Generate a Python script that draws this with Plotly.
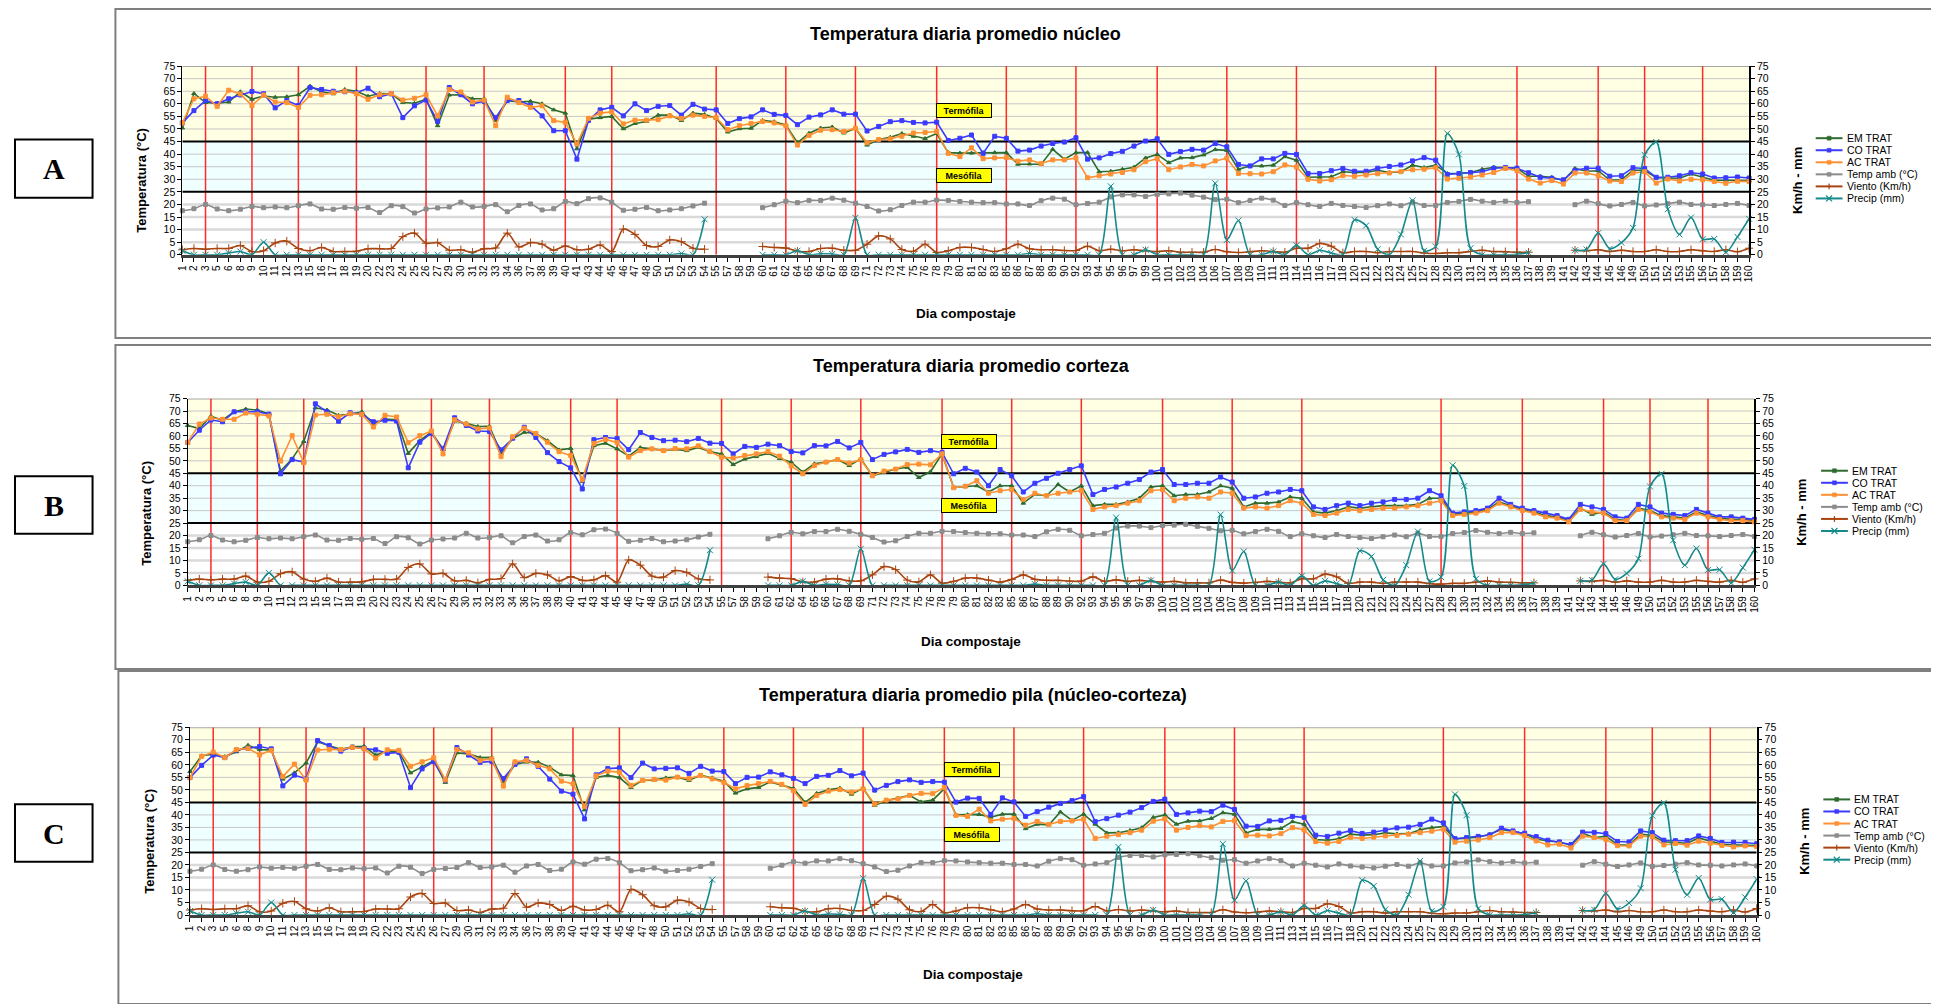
import plotly.graph_objects as go

OFF = 8            # default page body margin
W, H = 1939 - OFF, 1004 - OFF

days = ["1","2","3","5","6","8","9","10","11","12","13","15","16","17","18","19","20","22","23","24","25","26","27","29","30","31","32","33","34","36","37","38","39","40","41","43","44","45","46","47","48","50","51","52","53","54","55","57","58","59","60","61","62","64","65","66","67","68","69","71","72","73","74","75","76","78","79","80","81","82","83","85","86","87","88","89","90","92","93","94","95","96","97","99","100","101","102","103","104","106","107","108","109","110","111","113","114","115","116","117","118","120","121","122","123","124","125","127","128","129","130","131","132","134","135","136","137","138","139","141","142","143","144","145","146","149","150","151","152","153","155","156","157","158","159","160"]

red_days = ["3","9","13","19","26","32","40","45","55","62","69","78","85","92","100","107","114","128","136","144","150","156"]

temp_amb = [17.5,18.3,20.0,18.2,17.5,18.1,19.2,18.7,19.0,18.7,19.5,
            20.2,18.2,18.1,18.8,18.5,18.8,
            16.8,19.5,19.1,16.6,18.2,18.6,
            19.0,20.9,19.0,19.2,19.9,17.1,
            19.6,20.2,17.8,18.3,21.2,20.3,
            22.3,22.6,20.9,17.7,18.1,18.8,
            17.5,17.8,18.3,19.4,20.5,None,
            None,None,None,18.7,19.9,21.3,
            20.7,21.6,21.6,22.5,21.7,20.5,
            19.2,17.4,17.9,19.6,20.9,20.9,
            21.7,21.6,21.2,20.9,20.7,20.7,
            20.2,20.2,19.6,21.5,22.5,22.1,
            19.9,20.4,20.9,23.0,23.8,23.8,
            23.2,24.0,24.2,24.5,23.7,22.9,
            21.9,22.1,20.7,21.6,22.5,21.7,
            19.6,20.7,19.9,19.2,20.4,19.6,
            19.2,18.8,19.5,20.2,19.5,20.9,
            19.6,19.6,20.8,21.2,22.0,21.3,
            20.8,21.3,20.8,21.1,None,None,
            None,19.9,21.3,20.3,19.4,20.0,
            20.8,19.4,19.8,20.3,20.9,20.0,
            19.9,19.6,20.0,20.4,19.6]

viento = [2.0,2.5,2.2,2.5,2.5,3.7,1.3,1.6,4.7,5.4,2.5,
          1.6,2.9,1.3,1.3,1.4,2.4,
          2.4,2.5,7.2,8.6,4.6,4.8,
          1.8,2.0,1.0,2.4,2.7,8.6,
          3.1,4.8,4.2,1.8,3.5,2.0,
          2.2,3.9,1.3,10.2,8.1,3.7,
          3.3,5.9,5.2,2.6,2.2,None,
          None,None,None,3.3,2.9,2.7,
          1.4,1.3,2.5,2.6,1.8,1.8,
          4.2,7.5,6.3,2.1,1.4,4.2,
          0.9,1.6,2.9,2.9,2.1,1.3,
          2.4,4.2,2.4,2.0,2.0,1.7,
          1.7,3.4,1.6,2.2,1.6,2.0,
          1.6,1.3,1.6,1.0,1.0,1.0,
          2.1,1.2,0.9,1.2,1.6,1.3,
          1.0,2.6,2.6,4.5,3.4,0.8,
          1.3,1.3,0.8,1.3,1.3,1.3,
          0.7,0.5,0.8,0.8,1.3,1.8,
          1.3,1.2,1.0,1.0,None,None,
          None,1.8,1.6,2.0,1.3,1.8,
          1.3,1.3,2.0,1.3,1.3,2.0,
          1.6,1.3,2.0,1.2,2.6]

precip = [1.6,0,0,0,0.7,1.3,0,5.0,0,0,0,
          0,0,0,0,0,0,
          0,0,0,0,0,0,
          0,0,0,0,0,0,
          0,0,0,0,0,0,
          0,0,0,0,0,0,
          0,0,0.5,0,14.1,None,
          None,None,None,0,0,0,
          1.6,0,0.4,0.3,0,14.7,
          0,0,0,0,0,0,
          0,0,0,0,0,0,
          0,0,0.5,0,0,0,
          0,0,0,27.2,0,0,
          2.0,0,0,0,0,0,
          28.4,5.9,13.6,0,0,1.3,
          0,3.8,0,1.8,0.7,0,
          13.9,11.6,2.2,0,8.1,21.6,
          1.6,3.3,48.2,39.9,2.6,0,
          0,0,0.2,0.8,None,None,
          None,1.8,2.1,8.6,2.4,4.8,
          10.7,39.7,44.8,18.1,8.1,14.8,
          6.2,6.3,1.0,7.1,14.3]

A_em = [50.4,64.1,60.5,60.2,60.7,64.8,61.8,63.1,62.6,62.8,63.6,
        67.0,64.8,64.0,65.7,65.0,63.0,
        64.1,64.0,60.5,60.2,61.8,51.3,
        63.5,63.6,62.0,62.0,53.4,61.3,
        60.7,61.0,60.0,57.6,56.3,42.1,
        53.9,54.5,55.0,50.1,52.2,53.0,
        55.5,55.5,53.4,56.3,55.8,54.2,
        48.8,50.1,50.3,53.4,52.9,51.6,
        44.5,48.3,50.4,50.8,48.4,50.3,
        43.6,45.8,46.7,48.2,47.1,46.2,
        48.2,40.6,40.4,40.4,40.6,40.6,
        40.6,36.0,36.1,36.0,41.9,38.0,
        40.6,40.6,33.0,33.2,34.0,34.8,
        38.5,39.9,36.6,38.5,38.6,39.7,
        41.8,41.5,34.0,35.3,35.3,35.6,
        39.0,37.6,30.8,30.8,31.0,33.0,
        32.7,32.7,33.6,32.7,33.0,35.6,
        34.7,35.6,32.3,32.3,32.7,34.0,
        34.8,34.7,34.4,31.2,31.2,30.8,
        29.5,34.3,33.2,33.4,29.7,29.8,
        33.6,33.6,30.6,30.5,30.4,32.1,
        31.0,29.6,29.6,29.6,29.5]

A_co = [52.4,57.3,61.3,60.0,62.0,63.5,64.9,64.0,58.4,61.3,59.3,
        66.4,65.7,65.0,64.8,64.4,66.2,
        62.8,64.0,54.5,59.2,61.5,53.0,
        66.5,63.6,60.0,61.0,54.5,61.3,
        61.3,59.4,55.2,49.3,49.3,38.0,
        53.4,57.6,58.6,55.2,60.0,57.3,
        59.0,59.3,55.5,59.8,57.9,57.6,
        52.2,54.1,54.8,57.6,55.8,55.4,
        51.7,54.7,55.6,57.6,55.9,55.9,
        49.2,51.0,52.9,53.3,52.6,52.4,
        52.7,45.4,46.3,47.6,40.3,47.1,
        46.3,41.2,41.6,43.2,44.2,44.8,
        46.5,38.0,38.5,40.2,41.1,43.2,
        45.2,46.1,39.9,41.0,41.9,41.6,
        44.2,42.9,35.9,35.3,38.1,38.1,
        40.3,39.9,32.3,32.3,33.4,34.3,
        33.2,33.2,34.4,35.1,35.7,37.3,
        38.6,37.6,31.9,32.3,32.7,33.0,
        34.4,34.7,34.4,32.6,30.8,30.4,
        29.8,33.6,34.4,34.4,31.2,31.4,
        34.6,34.3,30.8,30.8,31.4,32.6,
        32.1,30.5,30.6,30.9,30.5]

A_ac = [52.4,62.0,63.0,59.0,65.4,63.9,59.3,63.5,60.7,60.5,58.5,
        63.4,63.6,64.4,65.0,64.0,61.8,
        63.6,64.0,61.5,62.2,63.6,55.2,
        65.7,64.7,60.7,61.5,51.3,62.6,
        60.5,58.6,59.2,53.3,52.6,44.0,
        54.2,56.3,56.8,52.0,53.5,53.5,
        53.7,55.2,54.2,55.5,55.0,54.5,
        49.7,51.3,52.2,53.0,52.4,51.3,
        43.6,47.4,49.5,49.7,49.0,50.3,
        44.5,45.8,46.1,47.1,48.4,48.6,
        49.0,40.3,39.0,42.5,38.2,38.5,
        38.6,37.2,37.7,36.3,37.7,37.7,
        38.5,30.6,31.4,32.1,32.7,33.8,
        37.0,38.2,33.8,34.9,35.9,35.3,
        37.3,38.4,32.3,32.2,32.1,33.0,
        35.7,34.9,30.0,29.3,29.8,31.5,
        31.2,31.7,32.2,32.5,33.0,33.8,
        34.0,34.6,30.1,30.4,30.9,31.7,
        32.7,34.3,33.4,30.1,28.5,29.5,
        28.1,32.5,32.5,31.4,29.3,29.1,
        32.5,33.0,28.5,30.1,29.3,30.0,
        29.8,29.1,28.4,29.2,29.1]

B_em = [64.2,63.0,67.9,66.3,69.7,70.8,70.4,68.9,45.9,50.8,57.8,
        71.3,70.4,68.3,68.7,69.7,64.7,
        66.8,66.5,53.0,58.1,61.5,54.6,
        66.0,65.1,63.8,63.9,53.0,58.9,
        61.5,61.0,58.1,54.4,55.0,41.8,
        56.1,57.1,54.8,51.9,55.3,54.8,
        54.1,54.6,54.1,55.4,53.7,52.8,
        48.5,50.7,51.7,53.0,50.9,49.5,
        45.5,48.8,49.5,50.5,48.1,50.8,
        44.0,45.5,46.7,47.4,43.3,45.6,
        52.8,39.3,39.8,40.0,37.5,40.0,
        40.0,33.0,36.5,36.0,40.5,37.5,
        40.0,32.0,32.5,32.5,33.5,35.0,
        39.5,40.0,36.0,36.5,36.5,37.5,
        40.0,39.0,31.5,33.0,33.0,33.5,
        35.5,35.0,29.5,29.0,30.0,31.5,
        31.0,31.5,32.0,32.0,32.0,32.5,
        35.0,35.0,28.5,29.0,29.5,30.5,
        33.5,32.0,30.5,29.5,28.0,27.5,
        26.0,31.0,28.5,29.5,26.5,26.0,
        31.0,30.0,28.0,27.5,27.0,29.5,
        28.0,27.0,26.5,26.5,26.0]

B_co = [57.4,62.3,66.4,65.7,69.7,69.7,69.7,68.7,44.8,50.5,49.5,
        72.9,69.7,65.9,69.3,68.7,65.7,
        66.3,66.0,47.2,57.5,61.1,54.8,
        67.3,64.2,62.0,61.8,54.4,59.1,
        63.5,59.4,53.3,49.7,47.2,38.7,
        58.5,59.4,59.0,54.5,61.4,59.4,
        58.1,58.3,57.7,59.0,57.1,57.0,
        52.8,55.8,55.4,56.7,56.1,53.7,
        53.2,56.1,56.0,57.8,55.2,57.4,
        50.5,52.6,53.6,54.6,53.4,54.1,
        53.4,44.8,47.0,45.5,40.0,46.5,
        44.0,37.5,41.0,43.0,45.0,46.5,
        48.0,36.5,38.5,39.5,41.0,42.5,
        45.5,46.5,40.5,40.5,41.0,41.0,
        43.5,41.5,35.0,35.5,37.0,37.5,
        38.5,38.0,31.5,30.5,32.0,33.0,
        32.0,33.0,33.5,34.5,34.5,35.0,
        38.0,36.0,29.0,29.5,30.0,31.0,
        35.0,32.5,31.0,30.0,29.0,28.0,
        26.5,32.5,31.5,30.5,27.5,27.0,
        32.5,31.5,29.0,28.5,28.0,30.5,
        29.0,27.5,27.5,27.0,26.5]

B_ac = [57.4,64.8,67.2,66.7,66.7,69.2,68.7,68.0,49.9,60.1,49.3,
        68.4,68.7,67.7,68.9,68.7,63.6,
        68.3,67.6,57.3,60.1,62.0,52.8,
        66.5,64.8,62.8,63.2,51.7,59.7,
        63.1,61.0,57.5,53.7,52.1,42.5,
        57.0,58.6,57.4,51.5,54.1,54.8,
        54.1,54.9,54.8,56.0,53.7,51.5,
        51.1,52.1,52.8,53.7,51.9,48.0,
        44.8,48.1,49.5,50.5,49.1,50.5,
        44.0,45.9,46.7,48.5,48.7,48.4,
        52.8,39.2,39.8,42.0,37.0,38.0,
        38.5,34.5,37.0,36.0,37.0,37.5,
        38.0,30.5,31.5,32.0,33.0,34.0,
        38.0,38.5,34.0,35.0,35.5,35.0,
        37.5,37.0,31.0,31.5,31.0,32.0,
        34.0,33.0,28.5,28.0,29.0,30.5,
        30.0,30.5,31.0,31.0,31.5,32.0,
        33.0,34.0,28.0,28.5,29.0,30.0,
        33.0,31.5,30.0,29.0,27.5,27.0,
        25.5,30.5,29.5,29.0,26.0,26.0,
        30.5,29.5,27.5,27.0,26.5,29.0,
        27.5,26.5,26.0,26.0,25.5]

C_em = [57.3,63.6,64.2,63.3,65.2,67.8,66.1,66.0,54.3,56.8,60.7,
        69.2,67.6,66.2,67.2,67.4,63.9,
        65.5,65.3,56.8,59.2,61.7,53.0,
        64.8,64.4,62.9,63.0,53.2,60.1,
        61.1,61.0,59.1,56.0,55.7,42.0,
        55.0,55.8,54.9,51.0,53.8,53.9,
        54.8,55.1,53.8,55.9,54.8,53.5,
        48.7,50.4,51.0,53.2,51.9,50.6,
        45.0,48.6,50.0,50.7,48.3,50.6,
        43.8,45.7,46.7,47.8,45.2,45.9,
        50.5,40.0,40.1,40.2,39.1,40.3,
        40.3,34.5,36.3,36.0,41.2,37.8,
        40.3,36.3,32.8,32.9,33.8,34.9,
        39.0,40.0,36.3,37.5,37.6,38.6,
        40.9,40.3,32.8,34.2,34.2,34.6,
        37.3,36.3,30.2,29.9,30.5,32.3,
        31.9,32.1,32.8,32.4,32.5,34.1,
        34.9,35.3,30.4,30.7,31.1,32.3,
        34.2,33.4,32.5,30.4,29.6,29.2,
        27.8,32.7,30.9,31.5,28.1,27.9,
        32.3,31.8,29.3,29.0,28.7,30.8,
        29.5,28.3,28.1,28.1,27.8]

C_co = [54.9,59.8,63.9,62.9,65.9,66.6,67.3,66.4,51.6,55.9,54.4,
        69.7,67.7,65.5,67.1,66.6,66.0,
        64.6,65.0,50.9,58.4,61.3,53.9,
        66.9,63.9,61.0,61.4,54.5,60.2,
        62.4,59.4,54.3,49.5,48.3,38.4,
        56.0,58.5,58.8,54.9,60.7,58.4,
        58.6,58.8,56.6,59.4,57.5,57.3,
        52.5,55.0,55.1,57.2,56.0,54.6,
        52.5,55.4,55.8,57.7,55.6,56.7,
        49.9,51.8,53.3,54.0,53.0,53.3,
        53.1,45.1,46.7,46.6,40.2,46.8,
        45.2,39.4,41.3,43.1,44.6,45.7,
        47.3,37.3,38.5,39.9,41.1,42.9,
        45.4,46.3,40.2,40.8,41.5,41.3,
        43.9,42.2,35.5,35.4,37.6,37.8,
        39.4,39.0,31.9,31.4,32.7,33.7,
        32.6,33.1,34.0,34.8,35.1,36.2,
        38.3,36.8,30.5,30.9,31.4,32.0,
        34.7,33.6,32.7,31.3,29.9,29.2,
        28.2,33.1,33.0,32.5,29.4,29.2,
        33.6,32.9,29.9,29.7,29.7,31.6,
        30.6,29.0,29.1,29.0,28.5]

C_ac = [54.9,63.4,65.1,62.9,66.1,66.6,64.0,65.8,55.3,60.3,53.9,
        65.9,66.2,66.1,67.0,66.4,62.7,
        66.0,65.8,59.4,61.2,62.8,54.0,
        66.1,64.8,61.8,62.4,51.5,61.2,
        61.8,59.8,58.4,53.5,52.4,43.3,
        55.6,57.5,57.1,51.8,53.8,54.2,
        53.9,55.1,54.5,55.8,54.4,53.0,
        50.4,51.7,52.5,53.4,52.2,49.7,
        44.2,47.8,49.5,50.1,49.1,50.4,
        44.3,45.9,46.4,47.8,48.6,48.5,
        50.9,39.8,39.4,42.3,37.6,38.3,
        38.6,35.9,37.4,36.2,37.4,37.6,
        38.3,30.6,31.5,32.1,32.9,33.9,
        37.5,38.4,33.9,35.0,35.7,35.2,
        37.4,37.7,31.7,31.9,31.6,32.5,
        34.9,34.0,29.3,28.7,29.4,31.0,
        30.6,31.1,31.6,31.8,32.3,32.9,
        33.5,34.3,29.1,29.5,30.0,30.9,
        32.9,32.9,31.7,29.6,28.0,28.3,
        26.8,31.5,31.0,30.2,27.7,27.6,
        31.5,31.3,28.0,28.6,27.9,29.5,
        28.7,27.8,27.2,27.6,27.3]

names = ["EM TRAT", "CO TRAT", "AC TRAT", "Temp amb (°C)", "Viento (Km/h)", "Precip (mm)"]
colors = ["#2F6B2F", "#3B3BFF", "#FF9033", "#8C8C8C", "#A9440F", "#168A8A"]
symbols = ["triangle-up", "square", "square", "square", "cross-thin", "x-thin"]

FONT = "Liberation Sans, Arial, sans-serif"
NARROW = "Liberation Sans Narrow, Arial Narrow, Liberation Sans, Arial, sans-serif"

panels = [
    dict(title="Temperatura diaria promedio núcleo", letter="A", x0=177.3, x1=1753.0, yt=60.7, yb=251.7,
         box=(110, 3, 1960, 336), lab=(9, 135, 87, 194), ty=28, xty=311, tl=57.5, ml=31.5,
         data=(A_em, A_co, A_ac)),
    dict(title="Temperatura diaria promedio corteza", letter="B", x0=182.7, x1=1758.4, yt=397.3, yb=586.3,
         box=(110, 343, 1960, 671), lab=(9, 476, 87, 534), ty=364, xty=643, tl=57.7, ml=31.9,
         data=(B_em, B_co, B_ac)),
    dict(title="Temperatura diaria promedio pila (núcleo-corteza)", letter="C", x0=185.0, x1=1760.7, yt=730.0, yb=920.0,
         box=(113, 673, 1960, 1010), lab=(9, 808, 87, 866), ty=697, xty=980, tl=58.0, ml=32.0,
         data=(C_em, C_co, C_ac)),
]

xs = list(range(len(days)))
nmax = len(days) - 1

fig = go.Figure()
shapes = []
annotations = []
layout = {}


def px(v):
    return (v - OFF) / W


def py(v):
    return 1 - (v - OFF) / H


for k, p in enumerate(panels):
    xa = "x" if k == 0 else f"x{k + 1}"
    yl_n = 2 * k + 1
    yr_n = 2 * k + 2
    yl = "y" if yl_n == 1 else f"y{yl_n}"
    yr = f"y{yr_n}"
    xkey = "xaxis" if k == 0 else f"xaxis{k + 1}"
    ylkey = "yaxis" if yl_n == 1 else f"yaxis{yl_n}"
    yrkey = f"yaxis{yr_n}"

    dom_x = [px(p["x0"]), px(p["x1"])]
    dom_y = [py(p["yb"]), py(p["yt"])]

    layout[xkey] = dict(domain=dom_x, anchor=yl, range=[0, nmax], tickmode="array",
                        tickvals=xs, ticktext=days, tickangle=-90,
                        tickfont=dict(family=FONT, size=10, color="#000"),
                        ticks="outside", ticklen=4, tickcolor="#000", tickwidth=1,
                        showline=True, linecolor="#404040", linewidth=2.5,
                        showgrid=False, zeroline=False, fixedrange=True)
    layout[ylkey] = dict(domain=dom_y, anchor=xa, range=[0, 75], tick0=0, dtick=5,
                         tickfont=dict(family=FONT, size=10.5, color="#000"),
                         ticks="outside", ticklen=4, tickcolor="#000",
                         showline=True, linecolor="#000", linewidth=1,
                         showgrid=False, zeroline=False, fixedrange=True)
    layout[yrkey] = dict(domain=dom_y, anchor=xa, overlaying=yl, side="right",
                         range=[0, 75], tick0=0, dtick=5,
                         tickfont=dict(family=FONT, size=10.5, color="#000"),
                         ticks="outside", ticklen=4, tickcolor="#000",
                         showline=True, linecolor="#000", linewidth=1.5,
                         showgrid=False, zeroline=False, fixedrange=True)

    shapes.append(dict(type="rect", xref=xa, yref=yl, x0=0, x1=nmax, y0=45, y1=75,
                       fillcolor="#FFFFE3", line=dict(width=0), layer="below"))
    shapes.append(dict(type="rect", xref=xa, yref=yl, x0=0, x1=nmax, y0=25, y1=45,
                       fillcolor="#EFFFFF", line=dict(width=0), layer="below"))
    for v in range(5, 75, 5):
        if v in (25, 45):
            continue
        if v < 25:
            shapes.append(dict(type="line", xref=xa, yref=yl, x0=0, x1=nmax, y0=v, y1=v,
                               line=dict(color="#D9D9D9", width=2.5), layer="below"))
        else:
            shapes.append(dict(type="line", xref=xa, yref=yl, x0=0, x1=nmax, y0=v, y1=v,
                               line=dict(color="#C6C6C6", width=1), layer="below"))
    shapes.append(dict(type="line", xref=xa, yref=yl, x0=0, x1=nmax, y0=75, y1=75,
                       line=dict(color="#A6A6A6", width=2), layer="below"))
    for d in red_days:
        i = days.index(d)
        shapes.append(dict(type="line", xref=xa, yref=yl, x0=i, x1=i, y0=0, y1=75,
                           line=dict(color="#FF2A2A", width=1.5), layer="below"))
    for v in (45, 25):
        shapes.append(dict(type="line", xref=xa, yref=yl, x0=0, x1=nmax, y0=v, y1=v,
                           line=dict(color="#000", width=2), layer="below"))

    series = list(p["data"]) + [temp_amb, viento, precip]
    for j, ys in enumerate(series):
        on_right = j >= 3
        fig.add_trace(go.Scatter(
            x=xs, y=ys, name=names[j], mode="lines+markers",
            xaxis=xa, yaxis=(yr if on_right else yl),
            line=dict(color=colors[j], width=1.6, shape=("spline" if on_right else "linear"),
                      smoothing=0.8),
            marker=dict(symbol=symbols[j], size=(6 if j >= 4 else 4), color=colors[j],
                        line=dict(color=colors[j], width=1)),
            connectgaps=False, cliponaxis=False, showlegend=False, hoverinfo="skip"))

    bx0, by0, bx1, by1 = p["box"]
    shapes.append(dict(type="rect", xref="paper", yref="paper", x0=px(bx0), x1=px(bx1),
                       y0=py(by1), y1=py(by0), line=dict(color="#7F7F7F", width=2),
                       fillcolor="rgba(0,0,0,0)", layer="below"))
    lx0, ly0, lx1, ly1 = p["lab"]
    shapes.append(dict(type="rect", xref="paper", yref="paper", x0=px(lx0), x1=px(lx1),
                       y0=py(ly1), y1=py(ly0), line=dict(color="#000", width=2),
                       fillcolor="white"))
    annotations.append(dict(xref="paper", yref="paper", x=px((lx0 + lx1) / 2), y=py((ly0 + ly1) / 2),
                            text=f"<b>{p['letter']}</b>", showarrow=False, xanchor="center", yanchor="middle",
                            font=dict(family="Liberation Serif, Times New Roman, serif", size=30, color="#000")))
    cx = (p["x0"] + p["x1"]) / 2
    annotations.append(dict(xref="paper", yref="paper", x=px(cx), y=py(p["ty"]),
                            text=f"<b>{p['title']}</b>", showarrow=False, xanchor="center", yanchor="middle",
                            font=dict(family=NARROW, size=18, color="#000")))
    annotations.append(dict(xref="paper", yref="paper", x=px(cx), y=py(p["xty"]),
                            text="<b>Dia compostaje</b>", showarrow=False, xanchor="center", yanchor="middle",
                            font=dict(family=NARROW, size=13.5, color="#000")))
    ymid = p["yt"] + 115.5
    annotations.append(dict(xref="paper", yref="paper", x=px(p["x0"] - 41), y=py(ymid),
                            text="<b>Temperatura (°C)</b>", showarrow=False, textangle=-90,
                            xanchor="center", yanchor="middle",
                            font=dict(family=FONT, size=13, color="#000")))
    annotations.append(dict(xref="paper", yref="paper", x=px(p["x1"] + 48), y=py(ymid),
                            text="<b>Km/h - mm</b>", showarrow=False, textangle=-90,
                            xanchor="center", yanchor="middle",
                            font=dict(family=FONT, size=13, color="#000")))
    for txt, yv in (("Termófila", p["tl"]), ("Mesófila", p["ml"])):
        annotations.append(dict(xref=xa, yref=yl, x=67.35, y=yv, text=f"<b>{txt}</b>",
                                showarrow=False, bgcolor="#FFFF00", bordercolor="#000", borderwidth=1,
                                borderpad=1, width=52, height=11, xanchor="center", yanchor="middle",
                                font=dict(family=FONT, size=9, color="#000")))
    lx_start = p["x1"] + 67
    for j, nm in enumerate(names):
        ly = p["yt"] + 73 + 12.2 * j
        shapes.append(dict(type="line", xref="paper", yref="paper", x0=px(lx_start), x1=px(lx_start + 27),
                           y0=py(ly), y1=py(ly), line=dict(color=colors[j], width=2)))
        mx = lx_start + 13.5
        if j < 4:
            shapes.append(dict(type="rect", xref="paper", yref="paper", x0=px(mx - 2), x1=px(mx + 2),
                               y0=py(ly + 2), y1=py(ly - 2), line=dict(color=colors[j], width=0.5),
                               fillcolor=colors[j]))
        elif j == 4:
            shapes.append(dict(type="line", xref="paper", yref="paper", x0=px(mx), x1=px(mx),
                               y0=py(ly + 3), y1=py(ly - 3), line=dict(color=colors[j], width=1.2)))
        else:
            shapes.append(dict(type="line", xref="paper", yref="paper", x0=px(mx - 3), x1=px(mx + 3),
                               y0=py(ly + 3), y1=py(ly - 3), line=dict(color=colors[j], width=1.2)))
            shapes.append(dict(type="line", xref="paper", yref="paper", x0=px(mx - 3), x1=px(mx + 3),
                               y0=py(ly - 3), y1=py(ly + 3), line=dict(color=colors[j], width=1.2)))
        annotations.append(dict(xref="paper", yref="paper", x=px(lx_start + 29), y=py(ly), text=nm,
                                showarrow=False, xanchor="left", yanchor="middle",
                                font=dict(family=FONT, size=10.5, color="#000")))

fig.update_layout(**layout)
fig.update_layout(width=W, height=H, autosize=False,
                  margin=dict(l=0, r=0, t=0, b=0, pad=0),
                  paper_bgcolor="white", plot_bgcolor="white",
                  showlegend=False, shapes=shapes, annotations=annotations,
                  font=dict(family=FONT, size=10, color="#000"))

fig.write_html("out.html")
